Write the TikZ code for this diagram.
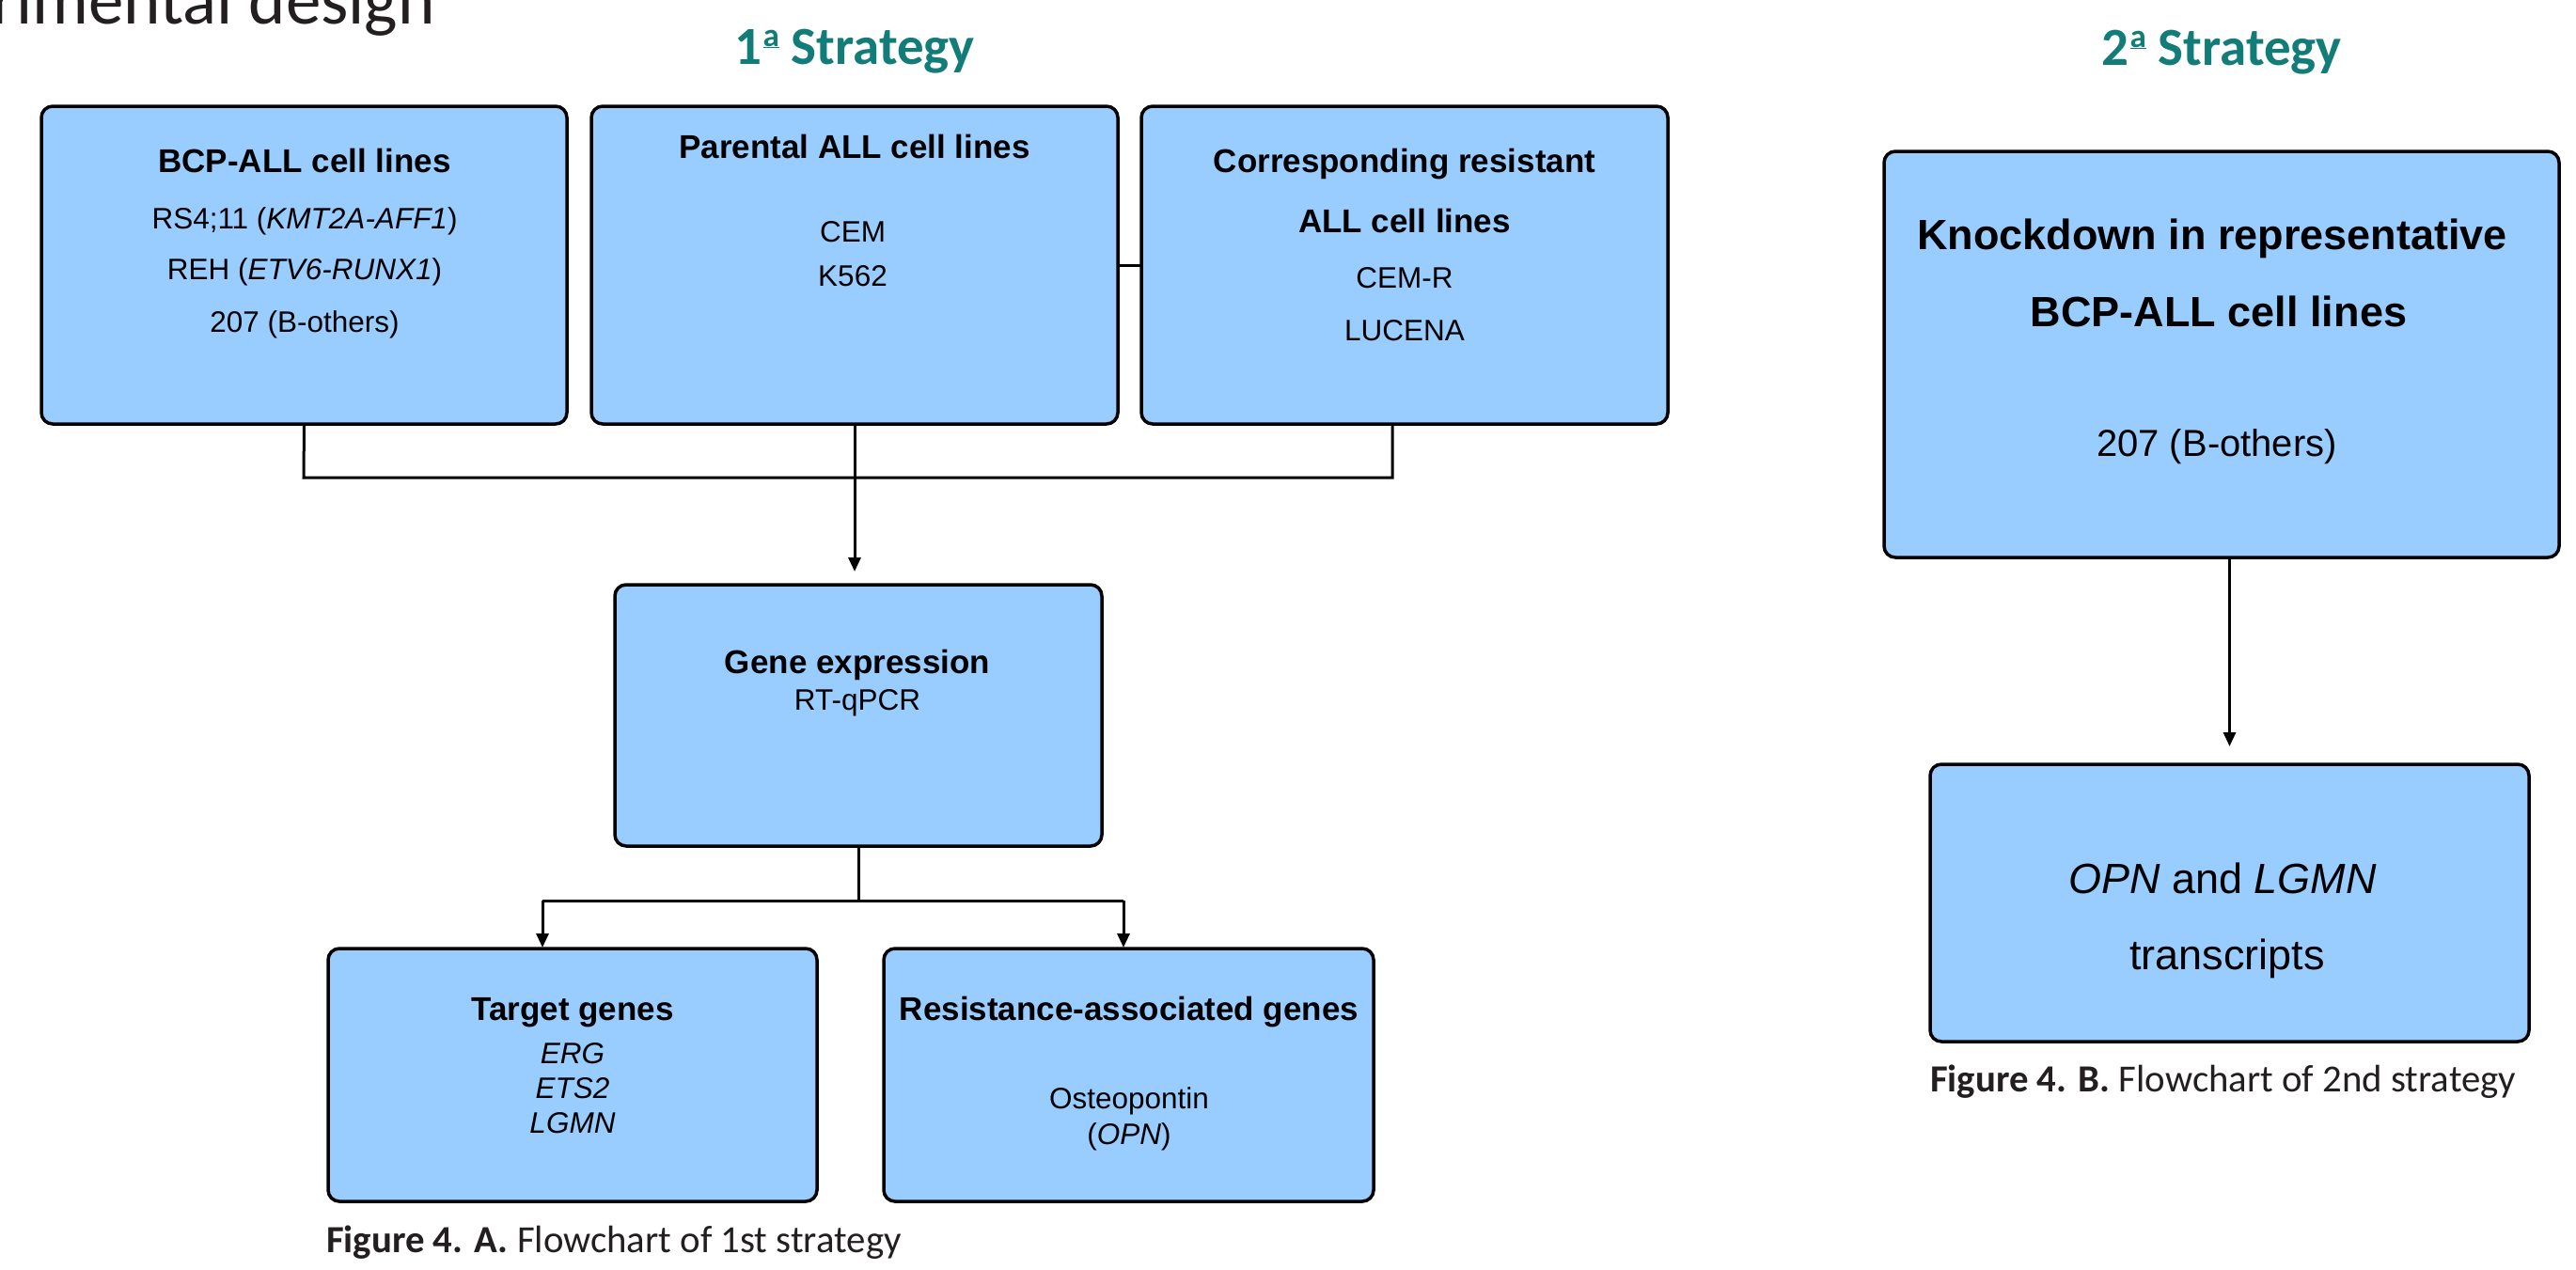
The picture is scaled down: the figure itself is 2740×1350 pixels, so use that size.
\documentclass[tikz,border=0pt]{standalone}
\usepackage{fontspec}
\setmainfont{Liberation Sans}
\newfontfamily\calibn{Carlito}
\usetikzlibrary{arrows.meta}
\definecolor{boxblue}{RGB}{153,204,255}
\definecolor{stratcol}{RGB}{18,124,120}
\definecolor{titlegray}{RGB}{35,31,32}
\newcommand{\myorda}{\kern1.5pt\raisebox{19pt}{\fontsize{35}{35}\selectfont\bfseries\underline{a}}}
\begin{document}
\begin{tikzpicture}[x=1pt,y=-1pt,
  box/.style={draw=black, line width=3.5pt, fill=boxblue, rounded corners=12pt, inner sep=0pt, outer sep=0pt},
  lbl/.style={anchor=base, inner sep=0pt, outer sep=0pt},
  hd/.style={lbl, font=\fontsize{35}{40}\selectfont\bfseries},
  tx/.style={lbl, font=\fontsize{31.5}{38}\selectfont},
  hdb/.style={lbl, font=\fontsize{45}{52}\selectfont\bfseries},
  conn/.style={line width=3pt},
  arr/.style={conn, -{Triangle[length=15pt,width=13pt]}},
  strat/.style={lbl, text=stratcol, font=\calibn\fontsize{57}{64}\selectfont\bfseries},
  capt/.style={anchor=base west, inner sep=0pt, text=titlegray, font=\calibn\fontsize{40.8}{46}\selectfont}
]
\useasboundingbox (0,0) rectangle (2740,1350);
\clip (0,0) rectangle (2740,1350);
\fill[white] (0,0) rectangle (2740,1350);

% title and strategy headings
\node[anchor=base east, inner sep=0pt, text=titlegray, font=\calibn\fontsize{75}{80}\selectfont] (title) at (463,25) {Experimental design};
\node[strat] (s1) at (909,68) {1\myorda{} Strategy};
\node[strat] (s2) at (2363,69) {2\myorda{} Strategy};

% boxes
\node[box, minimum width=559pt, minimum height=338pt] (b1) at (323.5,282) {};
\node[box, minimum width=560pt, minimum height=338pt] (b2) at (909,282) {};
\node[box, minimum width=560pt, minimum height=338pt] (b3) at (1494,282) {};
\node[box, minimum width=518pt, minimum height=278pt] (gene) at (913,761) {};
\node[box, minimum width=520pt, minimum height=269pt] (tgt) at (609,1143.5) {};
\node[box, minimum width=521pt, minimum height=269pt] (res) at (1200.5,1143.5) {};
\node[box, minimum width=718pt, minimum height=432pt] (knock) at (2363,377) {};
\node[box, minimum width=637pt, minimum height=295pt] (opn) at (2371.5,960.5) {};

% texts box 1
\node[hd] (b1h) at (324,183) {BCP-ALL cell lines};
\node[tx] (b1a) at (324,243) {RS4;11 (\textit{KMT2A-AFF1})};
\node[tx] (b1b) at (324,297) {REH (\textit{ETV6-RUNX1})};
\node[tx] (b1c) at (324,353) {207 (B-others)};
% box 2
\node[hd] (b2h) at (909,168) {Parental ALL cell lines};
\node[tx] (b2a) at (907,257) {CEM};
\node[tx] (b2b) at (907,304) {K562};
% box 3
\node[hd] (b3h) at (1494,183) {Corresponding resistant};
\node[hd] (b3h2) at (1494,247) {ALL cell lines};
\node[tx] (b3a) at (1494,306) {CEM-R};
\node[tx] (b3b) at (1494,362) {LUCENA};
% gene
\node[hd] (gh) at (912,716) {Gene expression};
\node[tx] (ga) at (912,755) {RT-qPCR};
% target
\node[hd] (th) at (609,1085) {Target genes};
\node[tx] (ta) at (609,1131) {\textit{ERG}};
\node[tx] (tb) at (609,1168) {\textit{ETS2}};
\node[tx] (tc) at (609,1205) {\textit{LGMN}};
% resistance
\node[hd] (rh) at (1201,1085) {Resistance-associated genes};
\node[tx] (ra) at (1201,1179) {Osteopontin};
\node[tx] (rb) at (1201,1217) {(\textit{OPN})};
% knockdown
\node[hdb] (kh) at (2353,265) {Knockdown in representative};
\node[hdb] (kh2) at (2360,347) {BCP-ALL cell lines};
\node[lbl, font=\fontsize{40}{46}\selectfont] (ka) at (2358,485) {207 (B-others)};
% opn
\node[lbl, font=\fontsize{45}{52}\selectfont] (oa) at (2364,950) {\textit{OPN} and \textit{LGMN}};
\node[lbl, font=\fontsize{45}{52}\selectfont] (ob) at (2369,1031) {transcripts};

% captions
\node[capt] (capA) at (347,1332) {{\bfseries Figure 4. A.} Flowchart of 1st strategy};
\node[capt] (capB) at (2053,1161) {{\bfseries Figure 4. B.} Flowchart of 2nd strategy};

% connectors
\coordinate (jL) at (323,508);
\coordinate (jR) at (1481,508);
\coordinate (sL) at (577,958);
\coordinate (sR) at (1195,958);
\draw[conn] (b2.east) -- (b3.west);
\draw[conn] (b1.south) -- (jL) -- (jR) -- (b3.south -| jR);
\draw[arr, shorten >=14pt] (b2.south) -- (b2.south |- gene.north);
\draw[conn] (gene.south) -- (gene.south |- sL);
\draw[conn] (sL) -- (sR);
\draw[arr, shorten >=1pt] (sL) -- (sL |- tgt.north);
\draw[arr, shorten >=1pt] (sR) -- (sR |- res.north);
\draw[arr, shorten >=19pt] (opn.north |- knock.south) -- (opn.north);
\end{tikzpicture}
\end{document}
